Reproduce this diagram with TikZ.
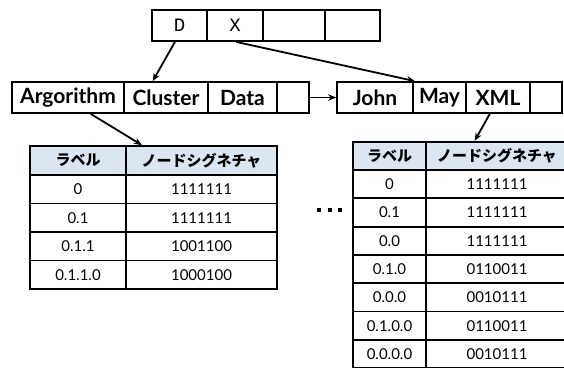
\documentclass[tikz,border=0pt]{standalone}
\usepackage{fontspec}
\setmainfont{Lato}
\newfontfamily\jp{Noto Sans CJK JP}
\newfontfamily\monof{Liberation Mono}
\usetikzlibrary{arrows.meta,calc}
\definecolor{hdr}{RGB}{220,230,241}
\begin{document}
\begin{tikzpicture}[x=1pt,y=-1pt,
  cell/.style={draw, line width=1.8pt, inner sep=0pt, minimum height=31pt},
  lab/.style={font=\fontsize{21}{23}\selectfont\bfseries},
  ttl/.style={font=\fontsize{19}{21}\selectfont\monof},
  tcell/.style={draw, line width=1.8pt, inner sep=0pt, font=\fontsize{15}{17}\selectfont},
  thead/.style={tcell, fill=hdr, font=\jp\bfseries\fontsize{15}{17}\selectfont},
  arr/.style={line width=1.8pt, -{Stealth[length=8pt,width=6.5pt]}},
  sqdot/.style={fill, inner sep=0pt, minimum size=4pt}]
\useasboundingbox (0,0) rectangle (564,367);

% top box
\node[cell,ttl,minimum width=55pt] (t1) at (179.5,25.5) {D};
\node[cell,ttl,minimum width=56pt] (t2) at (235,25.5) {X};
\node[cell,minimum width=62pt] (t3) at (294,25.5) {};
\node[cell,minimum width=55pt] (t4) at (352.5,25.5) {};

% left row
\node[cell,lab,minimum width=112pt] (a1) at (68,97.5) {Argorithm};
\node[cell,lab,minimum width=84pt] (a2) at (166,97.5) {Cluster};
\node[cell,lab,minimum width=69pt] (a3) at (242.5,97.5) {Data};
\node[cell,minimum width=32pt] (a4) at (293,97.5) {};

% right row
\node[cell,lab,minimum width=76pt] (b1) at (375,97.5) {John};
\node[cell,lab,minimum width=53pt] (b2) at (439.5,97.5) {May};
\node[cell,lab,minimum width=64pt] (b3) at (498,97.5) {XML};
\node[cell,minimum width=32pt] (b4) at (546,97.5) {};

% left table
\node[thead, minimum width=96pt, minimum height=29pt] (L0a) at (78,160.5) {ラベル};
\node[thead, minimum width=151pt, minimum height=29pt] (L0b) at (201.5,160.5) {ノードシグネチャ};
\foreach \lab/\sig [count=\i] in {0/1111111, 0.1/1111111, 0.1.1/1001100, 0.1.1.0/1000100} {
  \node[tcell, minimum width=96pt, minimum height=28.5pt] (L\i-a) at (78,{175+28.5*(\i-0.5)}) {\lab};
  \node[tcell, minimum width=151pt, minimum height=28.5pt] (L\i-b) at (201.5,{175+28.5*(\i-0.5)}) {\sig};
}

% right table
\node[thead, minimum width=73pt, minimum height=28.3pt] (R0a) at (389.5,155.85) {ラベル};
\node[thead, minimum width=142pt, minimum height=28.3pt] (R0b) at (497,155.85) {ノードシグネチャ};
\foreach \lab/\sig [count=\i] in {0/1111111, 0.1/1111111, 0.0/1111111, 0.1.0/0110011, 0.0.0/0010111, 0.1.0.0/0110011, 0.0.0.0/0010111} {
  \node[tcell, minimum width=73pt, minimum height=28.3pt] (R\i-a) at (389.5,{170+28.3*(\i-0.5)}) {\lab};
  \node[tcell, minimum width=142pt, minimum height=28.3pt] (R\i-b) at (497,{170+28.3*(\i-0.5)}) {\sig};
}

% dots
\node[sqdot] (d1) at (319,210) {};
\node[sqdot] (d2) at (329.5,210) {};
\node[sqdot] (d3) at (340,210) {};

% arrows
\draw[arr] ($(t1.south west)!0.42!(t1.south east)$) -- ($(a2.north west)!0.345!(a2.north east)$);
\draw[arr] ($(t2.south west)!0.52!(t2.south east)$) -- ($(b2.north west)!0.05!(b2.north east)$);
\draw[arr] (a4.east) -- (b1.west);
\draw[arr] ($(a1.south west)!0.70!(a1.south east)$) -- ($(L0b.north west)!0.11!(L0b.north east)$);
\draw[arr] ($(b3.south west)!0.375!(b3.south east)$) -- ($(R0b.north west)!0.345!(R0b.north east)$);
\end{tikzpicture}
\end{document}
